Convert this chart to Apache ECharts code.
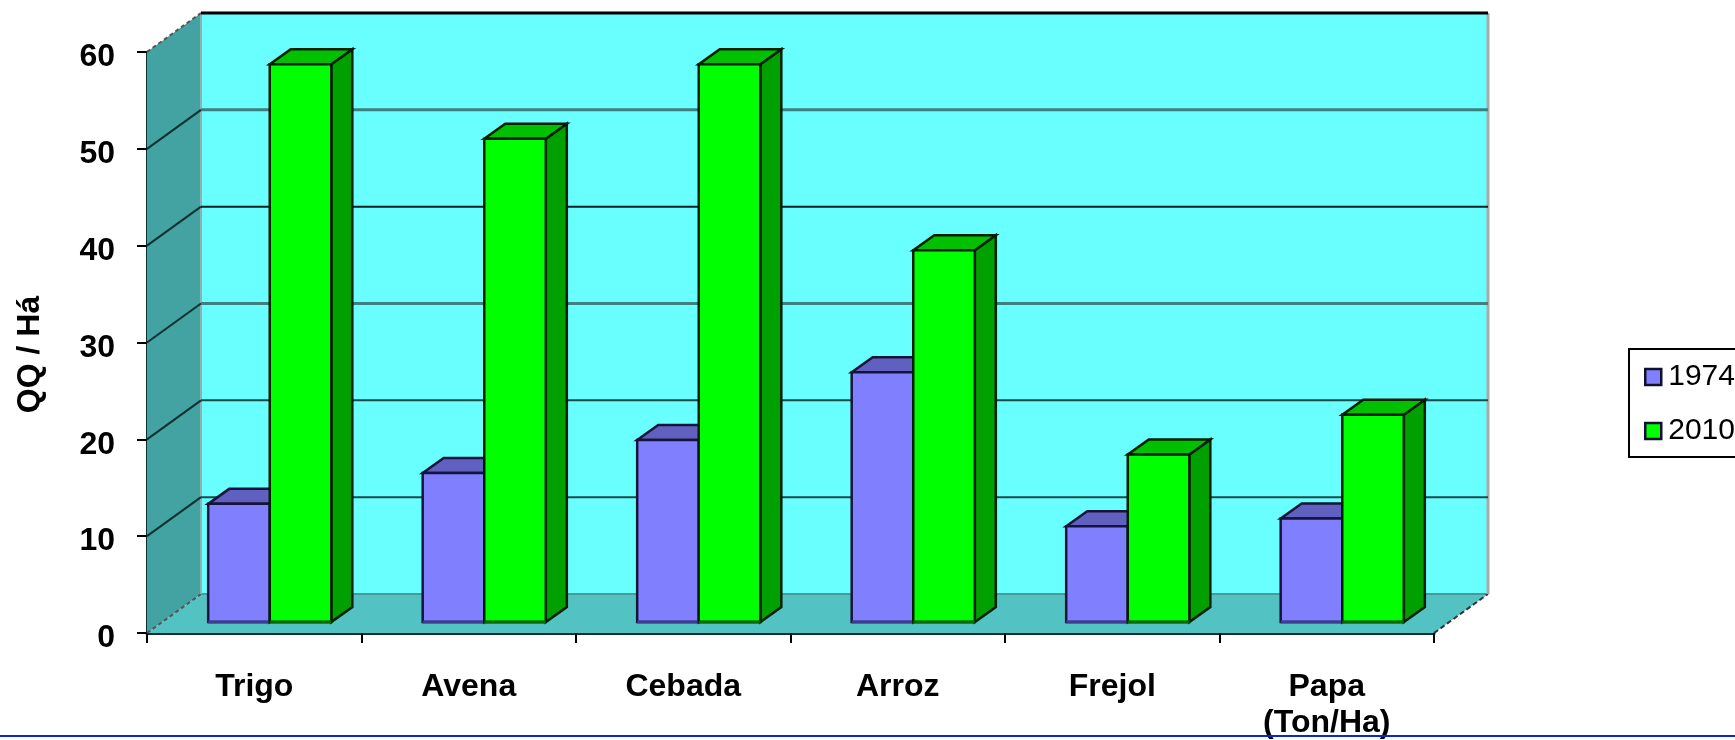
<!DOCTYPE html>
<html>
<head>
<meta charset="utf-8">
<style>html,body{margin:0;padding:0;background:#fff;overflow:hidden}#chart{width:1735px;height:740px}</style>
<script src="https://cdn.jsdelivr.net/npm/echarts@6/dist/echarts.min.js"></script>
</head>
<body>
<div id="chart"></div>
<script>
const categories = ['Trigo', 'Avena', 'Cebada', 'Arroz', 'Frejol', 'Papa\n(Ton/Ha)'];
const values1974 = [12.2, 15.4, 18.8, 25.8, 9.9, 10.7];
const values2010 = [57.6, 49.9, 57.6, 38.4, 17.3, 21.4];
const gridTicks = [10, 20, 30, 40, 50, 60];

const FONT = '"Liberation Sans", Arial, sans-serif';
const WALL_DX = 54, WALL_DY = -39;
const BAR_DX = 15.5, BAR_DY = -11, SIDE_DX = 21, SIDE_DY = -15, BAR_RATIO = 0.287;
const GRID_COLORS = {10:'#1c4848', 20:'#1c4848', 30:'#3f7f7f', 40:'#062020', 50:'#3f7f7f', 60:'#000000'};

const chart = echarts.init(document.getElementById('chart'), null, {renderer: 'canvas'});

function poly(points, fill, stroke, lw) {
  return {type: 'polygon', shape: {points}, style: {fill, stroke: stroke || null, lineWidth: lw || 0}};
}
function seg(a, b, stroke, lw, dash) {
  return {type: 'line', shape: {x1: a[0], y1: a[1], x2: b[0], y2: b[1]},
          style: {stroke, lineWidth: lw, lineDash: dash || null, fill: null}};
}

function renderWalls(params) {
  const g = params.coordSys;
  const x0 = g.x, x1 = g.x + g.width, y0 = g.y + g.height, y1 = g.y;
  const d = (p) => [p[0] + WALL_DX, p[1] + WALL_DY];
  const children = [
    poly([d([x0, y1]), d([x1, y1]), d([x1, y0]), d([x0, y0])], '#6AFFFF'),
    poly([[x0, y1], d([x0, y1]), d([x0, y0]), [x0, y0]], '#43A3A3'),
    poly([[x0, y0], [x1, y0], d([x1, y0]), d([x0, y0])], '#52C2C2'),
    seg(d([x0, y0]), d([x1, y0]), '#4A9A9A', 2),
    seg([x0, y0], d([x0, y0]), '#555555', 2, [4, 3]),
    seg([x1, y0], d([x1, y0]), '#333333', 2, [5, 3]),
    seg(d([x0, y1]), d([x0, y0]), '#8FB0B0', 2),
    seg(d([x1, y1]), d([x1, y0]), '#AAAAAA', 3)
  ];
  return {type: 'group', children};
}

function renderGridLine(params, api) {
  const v = api.value(0);
  const g = params.coordSys;
  const p = api.coord([0, v]);
  const a = [g.x, p[1]];
  const b = [g.x + WALL_DX, p[1] + WALL_DY];
  const c = [g.x + g.width + WALL_DX, p[1] + WALL_DY];
  const color = GRID_COLORS[v];
  const lw = v === 60 ? 3 : (color === '#3f7f7f' ? 3 : 2);
  return {type: 'group', children: [
    seg(a, b, v === 60 ? '#555555' : '#0e3030', 2, v === 60 ? [4, 3] : null),
    seg(b, c, color, lw)
  ]};
}

function barRenderer(offsetSign, colors) {
  return function (params, api) {
    const cat = api.value(0), val = api.value(1);
    const top = api.coord([cat, val]);
    const base = api.coord([cat, 0]);
    const cw = api.size([1, 0])[0];
    const bw = cw * BAR_RATIO;
    const l = top[0] + BAR_DX + (offsetSign < 0 ? -bw : 0);
    const r = l + bw;
    const yt = top[1] + BAR_DY, yb = base[1] + BAR_DY;
    const s = (p) => [p[0] + SIDE_DX, p[1] + SIDE_DY];
    return {type: 'group', children: [
      poly([[r, yt], s([r, yt]), s([r, yb]), [r, yb]], colors.side, colors.edge, 2.5),
      poly([[l, yt], [r, yt], s([r, yt]), s([l, yt])], colors.top, colors.edge, 2.5),
      {type: 'rect', shape: {x: l, y: yt, width: bw, height: yb - yt},
       style: {fill: colors.face, stroke: colors.edge, lineWidth: 2.5}},
      seg([l, yb], [r, yb], colors.bottom, 3)
    ]};
  };
}

const option = {
  animation: false,
  backgroundColor: '#ffffff',
  grid: {left: 147, right: 301, top: 52, bottom: 107, containLabel: false, outerBoundsMode: 'none'},
  legend: {
    data: ['1974', '2010'],
    orient: 'vertical',
    left: 1629,
    top: 349,
    padding: [13, 20, 11, 15],
    itemGap: 24,
    itemWidth: 16,
    itemHeight: 16,
    icon: 'rect',
    borderColor: '#000000',
    borderWidth: 2,
    backgroundColor: '#ffffff',
    itemStyle: {borderColor: '#101030', borderWidth: 2.5},
    textStyle: {fontFamily: FONT, fontSize: 30, color: '#000000', padding: [0, 0, 0, 2]}
  },
  xAxis: {
    type: 'category',
    data: categories,
    boundaryGap: true,
    axisLine: {show: true, lineStyle: {color: '#0E3030', width: 3}},
    axisTick: {show: true, length: 10, lineStyle: {color: '#000000', width: 2}},
    axisLabel: {interval: 0, margin: 36, fontFamily: FONT, fontWeight: 'bold', fontSize: 32, color: '#000000', lineHeight: 36, verticalAlign: 'top'},
    splitLine: {show: false}
  },
  yAxis: {
    type: 'value',
    min: 0,
    max: 60,
    interval: 10,
    name: 'QQ / Há',
    nameLocation: 'middle',
    nameGap: 101,
    nameRotate: 90,
    nameTextStyle: {fontFamily: FONT, fontWeight: 'bold', fontSize: 32, color: '#000000', padding: [0, 24, 0, 0]},
    axisLine: {show: true, lineStyle: {color: '#0E3030', width: 3}},
    axisTick: {show: true, length: 10, lineStyle: {color: '#000000', width: 2}},
    axisLabel: {margin: 32, fontFamily: FONT, fontWeight: 'bold', fontSize: 32, color: '#000000', verticalAlign: 'top', lineHeight: 11},
    splitLine: {show: false}
  },
  series: [
    {type: 'custom', name: 'walls', z: 1, silent: true, data: [[0]], renderItem: renderWalls},
    {type: 'custom', name: 'grid', z: 2, silent: true, data: gridTicks.map(v => [v]), encode: {y: 0}, renderItem: renderGridLine},
    {type: 'custom', name: '1974', z: 3, itemStyle: {color: '#8080FF'},
     data: values1974.map((v, i) => [i, v]), encode: {x: 0, y: 1},
     renderItem: barRenderer(-1, {face: '#8080FF', top: '#6060C0', side: '#6060C0', edge: '#14143A', bottom: '#3C3C90'})},
    {type: 'custom', name: '2010', z: 4, itemStyle: {color: '#00FF00'},
     data: values2010.map((v, i) => [i, v]), encode: {x: 0, y: 1},
     renderItem: barRenderer(1, {face: '#00FF00', top: '#00C000', side: '#00A000', edge: '#031F03', bottom: '#006A00'})}
  ],
  graphic: [
    {type: 'rect', z: 100, shape: {x: 0, y: 735, width: 1735, height: 2}, style: {fill: '#0A28C8'}}
  ]
};
chart.setOption(option);
</script>
</body>
</html>
